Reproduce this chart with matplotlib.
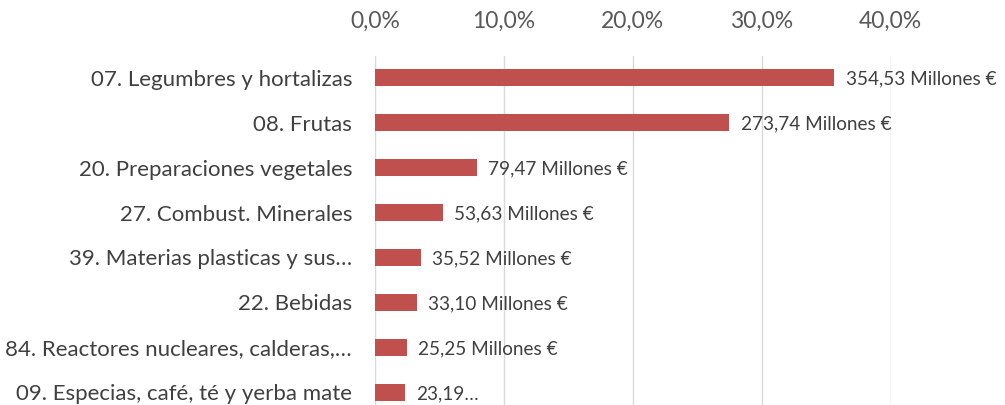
import matplotlib.pyplot as plt
from matplotlib.ticker import FuncFormatter

# categories top to bottom
categories = [
    '07. Legumbres y hortalizas',
    '08. Frutas',
    '20. Preparaciones vegetales',
    '27. Combust. Minerales',
    '39. Materias plasticas y sus…',
    '22. Bebidas',
    '84. Reactores nucleares, calderas,…',
    '09. Especias, café, té y yerba mate',
]
shares = [35.65, 27.5, 7.9, 5.3, 3.57, 3.28, 2.5, 2.33]  # % of total
labels = ['354,53 Millones €', '273,74 Millones €', '79,47 Millones €',
          '53,63 Millones €', '35,52 Millones €', '33,10 Millones €',
          '25,25 Millones €', '23,19…']
xticks = [0, 10, 20, 30, 40]

plt.rcParams['font.family'] = ['Lato', 'DejaVu Sans']

fig = plt.figure(figsize=(10.05, 4.05), dpi=100)
W, H = 1005, 405
top, bottom = 55.5, 414.5
ax = fig.add_axes([375 / W, 1 - bottom / H, (890.5 - 375) / W, (bottom - top) / H])

ypos = list(range(len(categories)))
ax.barh(ypos, shares, height=0.38, color='#C0504D', zorder=3)
ax.set_ylim(len(categories) - 0.5, -0.5)
ax.set_xlim(0, 40)

for y, v, lab in zip(ypos, shares, labels):
    ax.annotate(lab, (v, y), xytext=(8, -1), textcoords='offset points',
                va='center', ha='left', fontsize=13.7, color='#404040')

ax.set_yticks(ypos)
ax.set_yticklabels(categories, fontsize=16, color='#404040')
ax.set_xticks(xticks)
ax.xaxis.set_major_formatter(FuncFormatter(lambda v, p: f'{v:.1f}%'.replace('.', ',')))
ax.xaxis.tick_top()
ax.tick_params(axis='x', labelsize=16.5, labelcolor='#595959', length=0, pad=17)
ax.tick_params(axis='y', length=0, pad=16.5)
ax.grid(axis='x', color='#D9D9D9', linewidth=1, zorder=0)
for s in ax.spines.values():
    s.set_visible(False)

fig.savefig('out.png', dpi=100)
